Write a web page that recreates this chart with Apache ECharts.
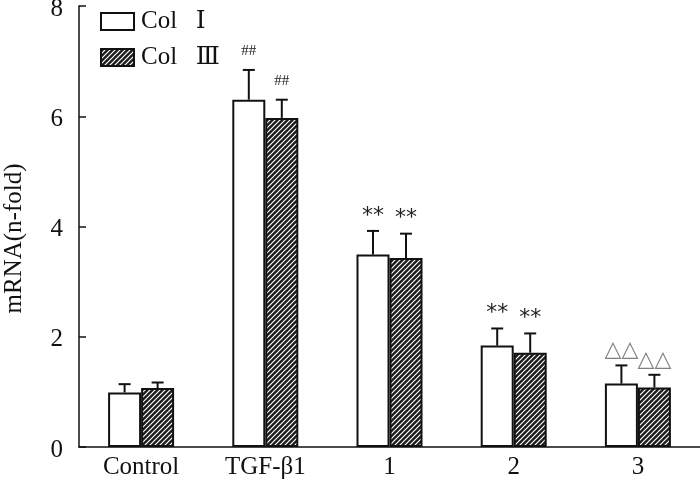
<!DOCTYPE html>
<html>
<head>
<meta charset="utf-8">
<script src="https://cdn.jsdelivr.net/npm/echarts@6/dist/echarts.min.js"></script>
<style>
  html, body { margin: 0; padding: 0; background: #fff; }
  #main { width: 700px; height: 481px; }
</style>
</head>
<body>
<div id="main"></div>
<script>
var categories = ['Control', 'TGF-β1', '1', '2', '3'];
var seriesNames = ['Col   Ⅰ', 'Col   Ⅲ'];
var col1 = [0.99, 6.30, 3.49, 1.84, 1.15];
var col1Err = [0.15, 0.54, 0.43, 0.31, 0.33];
var col3 = [1.07, 5.97, 3.43, 1.71, 1.08];
var col3Err = [0.10, 0.33, 0.44, 0.35, 0.23];
var marks = ['', '##', '**', '**', '△△'];

var serif = '"Liberation Serif", "DejaVu Serif", serif';

// hatch fill for Col III
var tile = document.createElement('canvas');
tile.width = 5; tile.height = 5;
var ctx = tile.getContext('2d');
ctx.fillStyle = '#1c1c1c';
ctx.fillRect(0, 0, 5, 5);
ctx.strokeStyle = '#ffffff';
ctx.lineWidth = 1.2;
ctx.beginPath();
ctx.moveTo(0, 5); ctx.lineTo(5, 0);
ctx.moveTo(-1, 1); ctx.lineTo(1, -1);
ctx.moveTo(4, 6); ctx.lineTo(6, 4);
ctx.stroke();
var hatch = { image: tile, repeat: 'repeat' };

var barW = 33;

function markStyle(mk) {
    if (mk.indexOf('△') >= 0) return { font: '22px "DejaVu Sans"', fill: '#808080', dy: 15 };
    if (mk === '##') return { font: '15px ' + serif, fill: '#222', dy: 19 };
    return { font: '22px "DejaVu Sans"', fill: '#222', dy: 15 };
}

function errSeries(means, errs, offset) {
    return {
        type: 'custom',
        z: 5,
        data: means.map(function (m, i) { return [i, m, errs[i]]; }),
        renderItem: function (params, api) {
            var i = api.value(0), m = api.value(1), e = api.value(2);
            var base = api.coord([i, m]);
            var top = api.coord([i, m + e]);
            var x = base[0] + offset;
            var mk = marks[params.dataIndex];
            var st = markStyle(mk);
            return {
                type: 'group',
                children: [
                    { type: 'line', shape: { x1: x, y1: base[1], x2: x, y2: top[1] }, style: { stroke: '#111', lineWidth: 2 } },
                    { type: 'line', shape: { x1: x - 6, y1: top[1], x2: x + 6, y2: top[1] }, style: { stroke: '#111', lineWidth: 2 } },
                    { type: 'text', x: x, y: top[1] - st.dy, style: {
                        text: mk, align: 'center', verticalAlign: 'middle',
                        fill: st.fill, font: st.font
                    } }
                ]
            };
        }
    };
}

var myChart = echarts.init(document.getElementById('main'));
myChart.setOption({
    animation: false,
    backgroundColor: '#fff',
    grid: { left: 79, right: 0, top: 6, bottom: 34, outerBoundsMode: 'none' },
    legend: {
        data: seriesNames,
        orient: 'vertical',
        left: 100, top: 9, padding: 0,
        icon: 'rect',
        itemWidth: 33, itemHeight: 17, itemGap: 11,
        textStyle: { fontFamily: serif, fontSize: 25, lineHeight: 24, color: '#111', padding: [0, 0, 0, 2] }
    },
    xAxis: {
        type: 'category',
        data: categories,
        axisLine: { lineStyle: { color: '#111', width: 1.5 } },
        axisTick: { show: false },
        axisLabel: { fontFamily: serif, fontSize: 25, color: '#111', margin: 8 }
    },
    yAxis: {
        type: 'value',
        min: 0, max: 8, interval: 2,
        name: 'mRNA(n-fold)',
        nameLocation: 'middle',
        nameGap: 52,
        nameTextStyle: { fontFamily: serif, fontSize: 25, color: '#111', padding: [0, 24, 0, 0] },
        axisLine: { show: true, lineStyle: { color: '#111', width: 1.5 } },
        axisTick: { show: true, inside: true, length: 7, lineStyle: { color: '#111', width: 1.5 } },
        splitLine: { show: false },
        axisLabel: { fontFamily: serif, fontSize: 25, color: '#111', margin: 16, verticalAlign: 'top', lineHeight: 6 }
    },
    series: [
        {
            name: seriesNames[0], type: 'bar', data: col1, barWidth: barW, barGap: 0,
            itemStyle: { color: '#fff', borderColor: '#111', borderWidth: 2 }
        },
        {
            name: seriesNames[1], type: 'bar', data: col3, barWidth: barW, barGap: 0,
            itemStyle: { color: hatch, borderColor: '#111', borderWidth: 2 }
        },
        errSeries(col1, col1Err, -barW / 2),
        errSeries(col3, col3Err, barW / 2)
    ]
});
</script>
</body>
</html>
